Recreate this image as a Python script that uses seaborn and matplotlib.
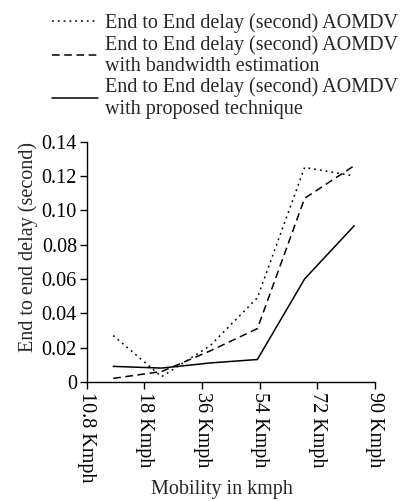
import numpy as np
import pandas as pd
import matplotlib
matplotlib.use("Agg")
import matplotlib.pyplot as plt
import seaborn as sns

# tick categories along the mobility axis
tick_labels = ["10.8 Kmph", "18 Kmph", "36 Kmph", "54 Kmph", "72 Kmph", "90 Kmph"]

# the measured points sit between the ticks in the original figure
x_pos = [0.46, 1.30, 2.14, 2.96, 3.78, 4.64]

delay_aomdv = [0.027, 0.003, 0.021, 0.049, 0.125, 0.120]
delay_bw = [0.002, 0.006, 0.018, 0.031, 0.107, 0.126]
delay_proposed = [0.009, 0.008, 0.011, 0.013, 0.060, 0.091]

series_names = [
    "End to End delay (second) AOMDV",
    "End to End delay (second) AOMDV\nwith bandwidth estimation",
    "End to End delay (second) AOMDV\nwith proposed technique",
]
styles = [(0, (1.2, 2.6)), (0, (5, 3)), "-"]

sns.set_style("ticks")
plt.rcParams["font.family"] = ["Liberation Serif", "DejaVu Serif"]
plt.rcParams["font.size"] = 14.5

fig = plt.figure(figsize=(4.16, 5.01), dpi=100)
ax = fig.add_axes([0.2084, 0.2379, 0.6930, 0.4793])

for name, vals, ls in zip(series_names, [delay_aomdv, delay_bw, delay_proposed], styles):
    df = pd.DataFrame({"x": x_pos, "y": vals})
    sns.lineplot(data=df, x="x", y="y", ax=ax, color="black", linewidth=1.1,
                 linestyle=ls, label=name, legend=False)

ax.set_xlim(0, 5)
ax.set_ylim(0, 0.14)
ax.set_xticks(range(len(tick_labels)))
ax.set_xticklabels(tick_labels, rotation=270, va="top", ha="center")
yt = np.arange(0, 0.141, 0.02)
ax.set_yticks(yt)
ax.set_yticklabels(["0"] + [f"{v:.2f}" for v in yt[1:]])
ax.tick_params(direction="out", length=5, width=1, colors="black", pad=2)
ax.set_xlabel("Mobility in kmph")
ax.set_ylabel("End to end delay (second)")
ax.xaxis.set_label_coords(0.47, -0.41)
ax.yaxis.set_label_coords(-0.17, 0.56)
sns.despine(ax=ax)
for s in ["left", "bottom"]:
    ax.spines[s].set_color("black")
    ax.spines[s].set_linewidth(1.0)

handles, labels = ax.get_legend_handles_labels()
leg = fig.legend(handles, labels, loc="upper left", bbox_to_anchor=(0.115, 0.981),
                 frameon=False, handlelength=2.3, handletextpad=0.35,
                 labelspacing=0.08, borderaxespad=0.0, borderpad=0.2)
for t in leg.get_texts():
    t.set_linespacing(1.17)

fig.savefig("out.png", dpi=100)
